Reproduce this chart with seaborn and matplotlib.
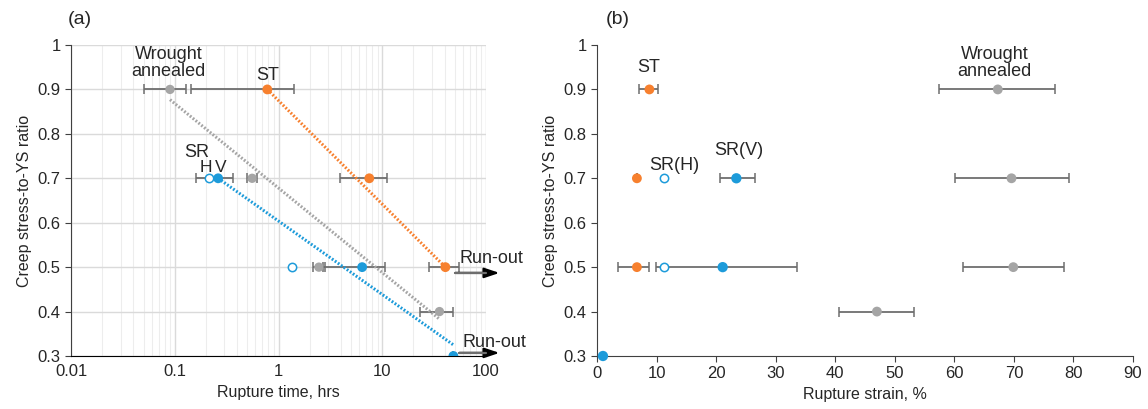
import matplotlib.pyplot as plt
import numpy as np
import pandas as pd
import seaborn as sns

sns.set_style("ticks")
plt.rcParams["font.family"] = ["Liberation Sans", "DejaVu Sans"]

# colours
c_wa = "#A5A5A5"
c_st = "#F7802E"
c_sr = "#1D9BDA"
c_err = "#6E6E6E"

# ---- panel (a): rupture time, hrs ----
wa_stress = [0.9, 0.7, 0.5, 0.4]
wa_time = [0.09, 0.557, 2.45, 35.6]
wa_time_lo = [0.05, 0.50, 2.15, 23.1]
wa_time_hi = [0.128, 0.62, 2.8, 47.9]

st_stress = [0.9, 0.7, 0.5]
st_time = [0.78, 7.5, 40.6]
st_time_lo = [0.145, 3.9, 28.5]
st_time_hi = [1.4, 11.2, 55.0]

srv_stress = [0.7, 0.5, 0.3]
srv_time = [0.262, 6.4, 48.5]
srv_time_lo = [0.16, 2.7, 48.5]
srv_time_hi = [0.363, 10.7, 48.5]

srh_stress = [0.7, 0.5]
srh_time = [0.216, 1.34]

# trend lines (end points)
wa_fit_time = [0.09, 35.6]
wa_fit_stress = [0.877, 0.383]
st_fit_time = [0.78, 40.6]
st_fit_stress = [0.9, 0.5]
srv_fit_time = [0.262, 48.5]
srv_fit_stress = [0.7, 0.325]

# ---- panel (b): rupture strain, % ----
wa_strain = [67.3, 69.6, 69.9, 47.0]
wa_strain_lo = [57.5, 60.1, 61.4, 40.7]
wa_strain_hi = [76.9, 79.2, 78.4, 53.3]

st_strain = [8.8, 6.7, 6.7]
st_strain_lo = [7.1, 6.7, 3.6]
st_strain_hi = [10.3, 6.7, 8.7]

srv_strain = [23.4, 21.1, 1.0]
srv_strain_lo = [20.7, 9.9, 1.0]
srv_strain_hi = [26.5, 33.5, 1.0]

srh_strain = [11.2, 11.3]

fig = plt.figure(figsize=(11.48, 4.09), dpi=100)
ax1 = fig.add_axes([71 / 1148, 1 - 356 / 409, (486 - 71) / 1148, 311 / 409])
ax2 = fig.add_axes([597 / 1148, 1 - 356 / 409, (1133 - 597) / 1148, 311 / 409])


def errbars(ax, x, y, lo, hi):
    x = np.array(x)
    xerr = [x - np.array(lo), np.array(hi) - x]
    ax.errorbar(x, y, xerr=xerr, fmt="none", ecolor=c_err, elinewidth=1.3,
                capsize=3.5, capthick=1.1, zorder=2)


# panel (a)
for x, y, c in [(wa_fit_time, wa_fit_stress, c_wa), (st_fit_time, st_fit_stress, c_st),
                (srv_fit_time, srv_fit_stress, c_sr)]:
    sns.lineplot(x=x, y=y, ax=ax1, color=c, lw=2.2, linestyle=(0, (0.6, 0.6)), zorder=3)

errbars(ax1, wa_time, wa_stress, wa_time_lo, wa_time_hi)
errbars(ax1, st_time, st_stress, st_time_lo, st_time_hi)
errbars(ax1, srv_time, srv_stress, srv_time_lo, srv_time_hi)
sns.scatterplot(x=wa_time, y=wa_stress, ax=ax1, color=c_wa, s=45, edgecolor="none", zorder=4)
sns.scatterplot(x=st_time, y=st_stress, ax=ax1, color=c_st, s=50, edgecolor="none", zorder=4)
sns.scatterplot(x=srv_time, y=srv_stress, ax=ax1, color=c_sr, s=50, edgecolor="none", zorder=4)
sns.scatterplot(x=srh_time, y=srh_stress, ax=ax1, facecolor="white", edgecolor=c_sr,
                linewidth=1.1, s=36, zorder=4)

ax1.set_xscale("log")
ax1.set_xlim(0.01, 100)
ax1.set_ylim(0.3, 1.0)
ax1.set_yticks(np.arange(0.3, 1.01, 0.1))
ax1.set_yticklabels(["0.3", "0.4", "0.5", "0.6", "0.7", "0.8", "0.9", "1"])
ax1.set_xticks([0.01, 0.1, 1, 10, 100])
ax1.set_xticklabels(["0.01", "0.1", "1", "10", "100"])
ax1.grid(which="major", axis="both", color="#DADADA", lw=1.0)
ax1.grid(which="minor", axis="x", color="#EDEDED", lw=0.8)
ax1.set_axisbelow(True)
ax1.tick_params(axis="x", which="both", length=0, labelsize=12, pad=6)
ax1.tick_params(axis="y", length=4, labelsize=12, color="#404040")
for s in ["top", "right"]:
    ax1.spines[s].set_visible(False)
ax1.spines["left"].set_color("#404040")
ax1.spines["bottom"].set_color("#000000")
ax1.set_xlabel("Rupture time, hrs", fontsize=11.5)
ax1.set_ylabel("Creep stress-to-YS ratio", fontsize=11.5)

ax1.text(0.0875, 0.96, "Wrought\nannealed", ha="center", va="center", fontsize=13, linespacing=1.0)
ax1.text(0.78, 0.932, "ST", ha="center", va="center", fontsize=13)
ax1.text(0.163, 0.758, "SR", ha="center", va="center", fontsize=13)
ax1.text(0.198, 0.725, "H", ha="center", va="center", fontsize=12.5)
ax1.text(0.28, 0.725, "V", ha="center", va="center", fontsize=12.5)

for y_arr, y_txt, x0, x_txt in [(0.487, 0.52, 50.7, 56), (0.307, 0.331, 55.5, 60)]:
    ax1.annotate("", xy=(135, y_arr), xytext=(x0, y_arr), annotation_clip=False,
                 arrowprops=dict(arrowstyle="-|>,head_length=0.9,head_width=0.3",
                                 color="#000000", lw=1.6, shrinkA=0, shrinkB=0))
    ax1.plot([x0, 100], [y_arr, y_arr], color="#6E6E6E", lw=1.6, clip_on=False, zorder=5)
    ax1.text(x_txt, y_txt, "Run-out", ha="left", va="center", fontsize=13, clip_on=False)

fig.text(68 / 1148, 1 - 20 / 409, "(a)", ha="left", va="center", fontsize=14)

# panel (b)
errbars(ax2, wa_strain, wa_stress, wa_strain_lo, wa_strain_hi)
errbars(ax2, st_strain, st_stress, st_strain_lo, st_strain_hi)
errbars(ax2, srv_strain, srv_stress, srv_strain_lo, srv_strain_hi)
sns.scatterplot(x=wa_strain, y=wa_stress, ax=ax2, color=c_wa, s=50, edgecolor="none", zorder=4)
sns.scatterplot(x=st_strain, y=st_stress, ax=ax2, color=c_st, s=50, edgecolor="none", zorder=4)
sns.scatterplot(x=srv_strain, y=srv_stress, ax=ax2, color=c_sr, s=55, edgecolor="none", zorder=4,
                clip_on=False)
sns.scatterplot(x=srh_strain, y=srh_stress, ax=ax2, facecolor="white", edgecolor=c_sr,
                linewidth=1.1, s=36, zorder=4)

ax2.set_xlim(0, 90)
ax2.set_ylim(0.3, 1.0)
ax2.set_xticks(np.arange(0, 91, 10))
ax2.set_yticks(np.arange(0.3, 1.01, 0.1))
ax2.set_yticklabels(["0.3", "0.4", "0.5", "0.6", "0.7", "0.8", "0.9", "1"])
ax2.tick_params(axis="both", length=4, labelsize=12, color="#404040")
for s in ["top", "right"]:
    ax2.spines[s].set_visible(False)
ax2.spines["left"].set_color("#404040")
ax2.spines["bottom"].set_color("#404040")
ax2.set_xlabel("Rupture strain, %", fontsize=11.5)
ax2.set_ylabel("Creep stress-to-YS ratio", fontsize=11.5)

ax2.text(8.6, 0.95, "ST", ha="center", va="center", fontsize=13)
ax2.text(66.8, 0.96, "Wrought\nannealed", ha="center", va="center", fontsize=13, linespacing=1.0)
ax2.text(13.0, 0.729, "SR(H)", ha="center", va="center", fontsize=13)
ax2.text(23.8, 0.763, "SR(V)", ha="center", va="center", fontsize=13)

fig.text(606 / 1148, 1 - 20 / 409, "(b)", ha="left", va="center", fontsize=14)

fig.savefig("out.png", dpi=100)
